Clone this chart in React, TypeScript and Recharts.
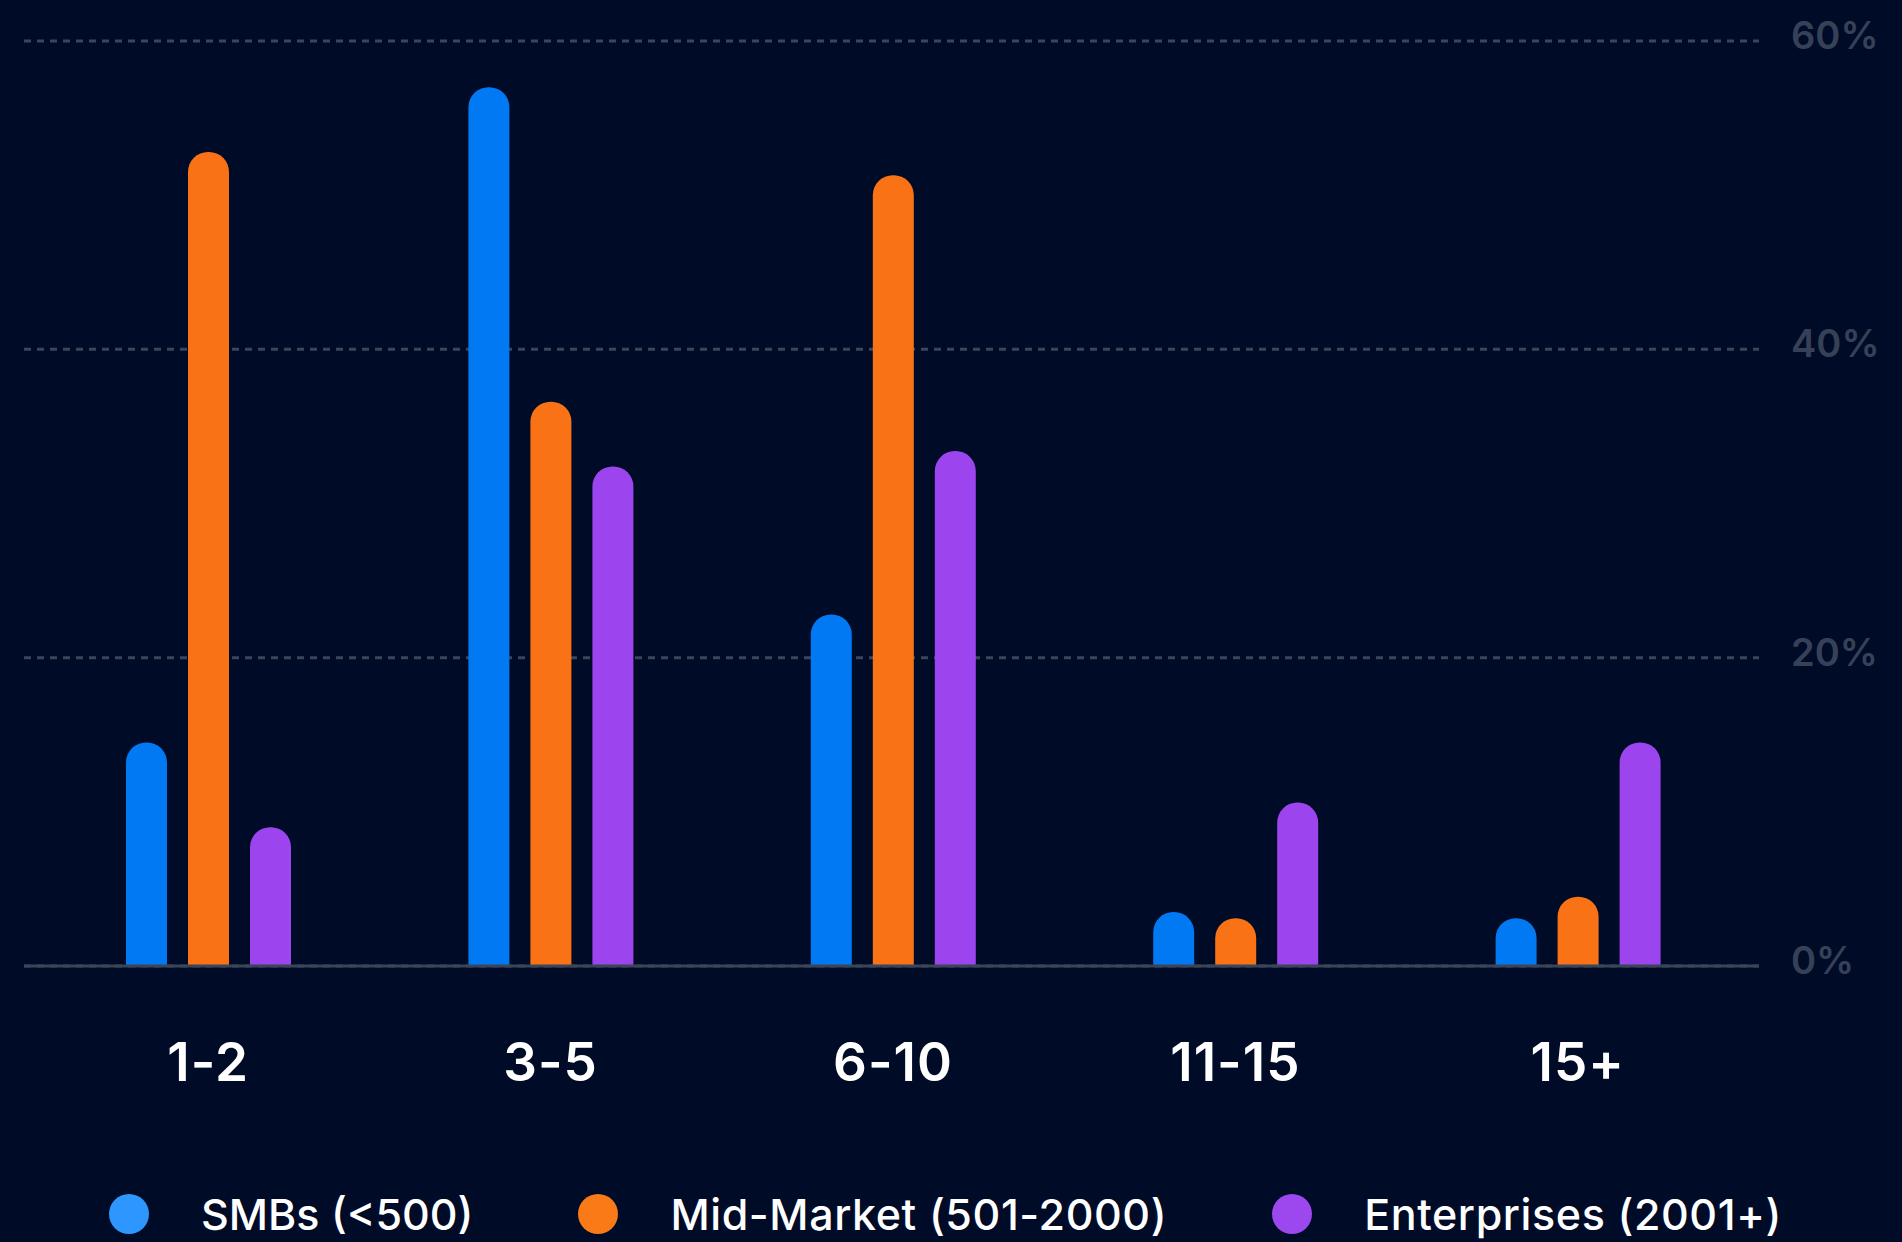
import React from "react";
import {
  BarChart,
  Bar,
  XAxis,
  YAxis,
  CartesianGrid,
  Legend,
} from "recharts";

const categories = ["1-2", "3-5", "6-10", "11-15", "15+"];
const smbValues = [14.5, 57, 22.8, 3.5, 3.1];
const midMarketValues = [52.8, 36.6, 51.3, 3.1, 4.5];
const enterpriseValues = [9, 32.4, 33.4, 10.6, 14.5];
const yTicks = [0, 20, 40, 60];

const seriesNames = ["SMBs (<500)", "Mid-Market (501-2000)", "Enterprises (2001+)"];
const barColors = ["#0079F2", "#F97316", "#9C45EE"];
const legendColors = ["#2E97FF", "#F97A16", "#9D47EE"];

const data = categories.map((c, i) => ({
  name: c,
  smb: smbValues[i],
  mid: midMarketValues[i],
  ent: enterpriseValues[i],
}));

const FONT = "Inter, 'Noto Sans', sans-serif";

function XTick({ x, y, payload }: any) {
  return (
    <text
      x={x}
      y={y + 94}
      textAnchor="middle"
      dominantBaseline="central"
      fill="#FFFFFF"
      fontSize={53}
      fontWeight={600}
      fontFamily={FONT}
      letterSpacing={1}
    >
      {payload.value}
    </text>
  );
}

function YTick({ x, y, payload }: any) {
  return (
    <text
      x={x + 30}
      y={y - 6}
      textAnchor="start"
      dominantBaseline="central"
      fill="#364157"
      fontSize={38}
      fontWeight={600}
      fontFamily={FONT}
    >
      {payload.value}%
    </text>
  );
}

function LegendContent() {
  return (
    <div
      style={{
        display: "flex",
        alignItems: "center",
        height: 56,
        paddingLeft: 109,
        fontFamily: FONT,
        whiteSpace: "nowrap",
      }}
    >
      {seriesNames.map((n, i) => (
        <div
          key={n}
          style={{ display: "flex", alignItems: "center", marginRight: 105, flexShrink: 0 }}
        >
          <span
            style={{
              width: 40,
              height: 40,
              borderRadius: "50%",
              background: legendColors[i],
              display: "inline-block",
              marginRight: 52,
              flexShrink: 0,
            }}
          />
          <span
            style={{
              color: "#FFFFFF",
              fontSize: 43,
              fontWeight: 500,
              letterSpacing: i === 0 ? 0 : 0.6,
            }}
          >
            {n}
          </span>
        </div>
      ))}
    </div>
  );
}

export default function App() {
  return (
    <div
      style={{
        position: "absolute",
        top: 0,
        left: 0,
        width: 1902,
        height: 1242,
        background: "#000B27",
      }}
    >
      <BarChart
        width={1902}
        height={1242}
        data={data}
        margin={{ top: 41, right: 0, left: 24, bottom: 0 }}
        barSize={41}
        barGap={21}
      >
        <CartesianGrid
          vertical={false}
          stroke="#3A4558"
          strokeWidth={3}
          strokeDasharray="7 6"
        />
        <XAxis
          dataKey="name"
          height={220}
          tickLine={false}
          tickSize={0}
          axisLine={{ stroke: "#3A4558", strokeWidth: 3 }}
          padding={{ left: 13, right: 10 }}
          tick={<XTick />}
        />
        <YAxis
          orientation="right"
          width={143}
          domain={[0, 60]}
          ticks={yTicks}
          tickLine={false}
          tickSize={0}
          axisLine={false}
          tick={<YTick />}
        />
        <Legend
          verticalAlign="bottom"
          height={56}
          wrapperStyle={{ left: 0, width: 1902 }}
          content={<LegendContent />}
        />
        <Bar dataKey="smb" name={seriesNames[0]} fill={barColors[0]} radius={[20, 20, 0, 0]} isAnimationActive={false} />
        <Bar dataKey="mid" name={seriesNames[1]} fill={barColors[1]} radius={[20, 20, 0, 0]} isAnimationActive={false} />
        <Bar dataKey="ent" name={seriesNames[2]} fill={barColors[2]} radius={[20, 20, 0, 0]} isAnimationActive={false} />
      </BarChart>
    </div>
  );
}
